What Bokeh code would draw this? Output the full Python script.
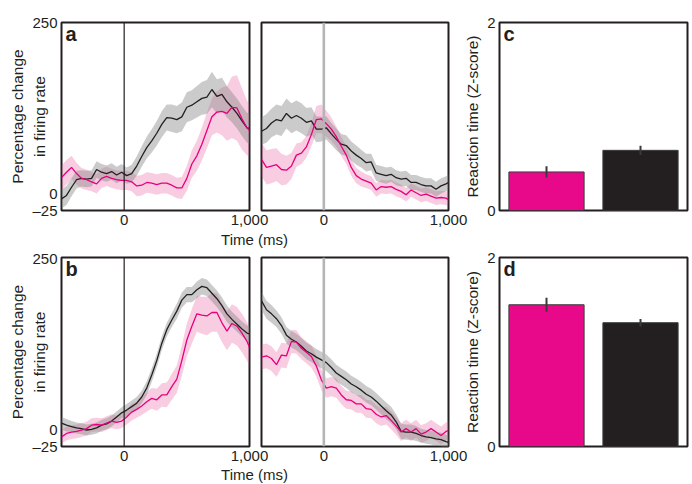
from bokeh.plotting import figure
from bokeh.models import Range1d, FactorRange, FixedTicker, Span, Label, Div, ColumnDataSource
from bokeh.layouts import row, column
from bokeh.embed import file_html
from bokeh.resources import INLINE

# ---------------- data ----------------
T = [-500, -460, -420, -380, -340, -300, -260, -220, -180, -140, -100, -60, -20,
     20, 60, 100, 140, 180, 220, 260, 300, 340, 380, 420, 460, 500, 540, 580,
     620, 660, 700, 740, 780, 820, 860, 900, 940, 980, 1000]

# panel a, left
AL_BLACK = [-8, -3, 9, 20, 22, 21, 22, 35, 31, 29, 32, 27, 31, 26, 29, 40, 54, 67, 77, 88,
            101, 111, 110, 108, 112, 126, 129, 134, 139, 141, 152, 142, 145, 134, 126, 117, 106, 96, 95]
AL_BLACK_SEM = [14, 14, 13, 13, 12, 12, 12, 12, 12, 12, 12, 12, 12, 12, 13, 14, 15, 16, 17, 18,
                19, 19, 20, 20, 21, 22, 22, 23, 24, 25, 26, 25, 24, 23, 22, 22, 22, 22, 22]
AL_PINK = [23, 31, 38, 29, 22, 20, 17, 14, 22, 25, 22, 20, 19, 19, 17, 11, 12, 16, 15, 13,
           15, 15, 12, 8, 8, 22, 43, 55, 72, 92, 112, 119, 120, 117, 126, 125, 109, 96, 92]
AL_PINK_SEM = [18, 18, 17, 16, 15, 15, 14, 14, 14, 14, 14, 14, 14, 14, 14, 15, 15, 15, 15, 15,
               15, 15, 15, 15, 16, 18, 20, 22, 24, 26, 27, 30, 35, 40, 45, 48, 45, 40, 38]

# panel a, right
AR_BLACK = [91, 95, 103, 108, 106, 117, 110, 114, 110, 104, 106, 94, 94, 96, 87, 79, 72, 70, 62, 56,
            51, 45, 46, 30, 28, 26, 28, 23, 21, 22, 16, 16, 13, 11, 11, 6, 11, 14, 16]
AR_BLACK_SEM = [20, 21, 21, 22, 22, 22, 22, 22, 22, 21, 20, 19, 18, 17, 16, 16, 15, 15, 14, 14,
                13, 13, 12, 12, 12, 12, 11, 11, 11, 11, 11, 11, 11, 11, 11, 11, 11, 11, 11]
AR_PINK = [50, 38, 40, 42, 35, 34, 40, 56, 59, 68, 86, 108, 109, 102, 94, 83, 69, 56, 38, 26,
           21, 18, 15, 5, 10, 9, 10, 6, 3, -2, 5, 1, -3, -1, -4, -7, -6, -7, -9]
AR_PINK_SEM = [24, 25, 25, 24, 23, 21, 19, 17, 16, 16, 17, 20, 21, 19, 17, 15, 14, 13, 12, 11,
               11, 10, 10, 10, 10, 10, 10, 10, 10, 10, 10, 10, 10, 10, 10, 10, 10, 10, 10]

# panel b, left
BL_BLACK = [9, 6, 4, 2, 1, -1, 0, 2, 6, 8, 12, 18, 24, 28, 33, 38, 47, 60, 79, 100,
            125, 145, 159, 172, 188, 196, 196, 203, 208, 206, 198, 190, 180, 168, 160, 153, 146, 140, 139]
BL_BLACK_SEM = [9, 9, 8, 8, 8, 8, 8, 8, 8, 8, 8, 8, 8, 9, 9, 9, 9, 10, 10, 10,
                10, 10, 10, 11, 11, 11, 11, 12, 12, 12, 12, 12, 12, 12, 11, 11, 11, 11, 11]
BL_PINK = [-11, -6, -4, -3, -1, 1, 6, 7, 6, 9, 12, 10, 12, 18, 25, 29, 34, 40, 45, 43,
           50, 50, 62, 73, 100, 130, 150, 168, 166, 165, 170, 170, 155, 143, 154, 150, 140, 128, 119]
BL_PINK_SEM = [10, 10, 10, 10, 10, 10, 10, 10, 10, 10, 10, 10, 10, 11, 12, 12, 13, 14, 15, 16,
               17, 18, 19, 20, 22, 24, 25, 26, 27, 28, 28, 28, 28, 28, 28, 28, 28, 28, 28]

# panel b, right
BR_BLACK = [187, 174, 168, 161, 151, 137, 131, 127, 121, 114, 110, 105, 101, 97, 90, 82, 77, 72, 66, 62,
            57, 51, 47, 41, 34, 27, 21, 11, -3, -4, -4, -6, -9, -11, -12, -14, -15, -18, -19]
BR_BLACK_SEM = [13, 13, 13, 12, 12, 12, 12, 12, 12, 12, 12, 12, 12, 12, 12, 12, 12, 12, 12, 12,
                12, 12, 12, 12, 12, 12, 12, 11, 11, 11, 11, 11, 10, 10, 10, 10, 10, 10, 10]
BR_PINK = [105, 107, 103, 94, 108, 107, 128, 127, 118, 112, 106, 92, 72, 60, 62, 60, 50, 43, 42, 37,
           37, 30, 29, 22, 18, 20, 13, 5, -4, 1, -4, 1, -7, -4, 1, -4, -9, -3, -2]
BR_PINK_SEM = [18, 18, 18, 18, 18, 18, 17, 17, 16, 16, 16, 15, 15, 14, 14, 14, 13, 13, 13, 13,
               13, 13, 13, 13, 13, 13, 13, 13, 13, 13, 13, 13, 13, 13, 13, 13, 13, 13, 13]

# bar panels c and d
CONDS = ["Laser", "No laser"]
C_RT = [0.41, 0.64]
C_ERR = [0.06, 0.05]
D_RT = [1.50, 1.31]
D_ERR = [0.075, 0.04]

XLIM = (-500, 1000)
YLIM = (-25, 250)
XTICKS = [0, 1000]
YTICKS = [-25, 0, 250]
RT_LIM = (0, 2)
RT_TICKS = [0, 2]

# ---------------- style ----------------
FONT = "Liberation Sans"
INK = "#231f20"
PINK = "#e6007e"
BAR_COLORS = ["#e8098a", "#231f20"]


def style_axes(p):
    p.outline_line_color = INK
    p.outline_line_width = 2
    p.outline_line_alpha = 1
    p.grid.visible = False
    for ax in list(p.xaxis) + list(p.yaxis):
        ax.axis_line_color = None
        ax.major_tick_line_color = None
        ax.minor_tick_line_color = None
        ax.major_tick_out = 0
        ax.major_tick_in = 0
        ax.minor_tick_out = 0
        ax.minor_tick_in = 0
        ax.major_label_text_font = FONT
        ax.major_label_text_font_size = "15px"
        ax.major_label_text_color = INK
        ax.axis_label_text_font = FONT
        ax.axis_label_text_font_size = "15.5px"
        ax.axis_label_text_font_style = "normal"
        ax.axis_label_text_color = INK


def letter_label(text, x, y):
    return Label(x=x, y=y, x_offset=4, y_offset=-11, text=text, text_font=FONT,
                 text_font_style="bold", text_font_size="20px", text_color=INK,
                 text_baseline="alphabetic")


def time_fig(letter, kb, ks, pb, ps, with_y, top, height, bottom, margin_left, left_border, frame_w):
    p = figure(frame_width=frame_w, frame_height=height,
               x_range=Range1d(*XLIM), y_range=Range1d(*YLIM),
               output_backend="svg", toolbar_location=None,
               min_border_left=left_border, min_border_right=22,
               min_border_top=top, min_border_bottom=bottom,
               margin=(0, 0, 0, margin_left))
    p.border_fill_alpha = 0
    style_axes(p)
    p.varea(x=T, y1=[m - s for m, s in zip(pb, ps)], y2=[m + s for m, s in zip(pb, ps)],
            fill_color="#e8559a", fill_alpha=0.3)
    p.varea(x=T, y1=[m - s for m, s in zip(kb, ks)], y2=[m + s for m, s in zip(kb, ks)],
            fill_color="#8c8c8c", fill_alpha=0.45)
    if with_y:
        p.add_layout(Span(location=0, dimension="height", line_color=INK, line_width=1.2))
    else:
        p.add_layout(Span(location=0, dimension="height", line_color="#b5b5b5", line_width=2.6))
    p.line(T, kb, line_color=INK, line_width=1.3)
    p.line(T, pb, line_color=PINK, line_width=1.3)

    p.xaxis.ticker = FixedTicker(ticks=XTICKS)
    p.xaxis.major_label_overrides = {1000: "1,000"}
    p.xaxis.major_label_standoff = 4
    if with_y:
        p.yaxis.ticker = FixedTicker(ticks=YTICKS)
        p.yaxis.major_label_overrides = {-25: "\u201325"}
        p.yaxis.major_label_standoff = 4
        p.yaxis.axis_label = "Percentage change\nin firing rate"
        p.yaxis.axis_label_standoff = -19
        p.yaxis.axis_label_text_line_height = 1.3
    else:
        p.yaxis.visible = False
    if letter:
        p.add_layout(letter_label(letter, XLIM[0], YLIM[1]))
    return p


def bar_fig(letter, vals, errs, top, height, bottom, margin_left):
    p = figure(frame_width=188, frame_height=height,
               x_range=FactorRange(*CONDS), y_range=Range1d(*RT_LIM),
               output_backend="svg", toolbar_location=None,
               min_border_left=36, min_border_right=3,
               min_border_top=top, min_border_bottom=bottom,
               margin=(0, 0, 0, margin_left))
    p.border_fill_alpha = 0
    style_axes(p)
    src = ColumnDataSource(dict(cond=CONDS, rt=vals,
                                lo=[v - e for v, e in zip(vals, errs)],
                                hi=[v + e for v, e in zip(vals, errs)],
                                color=BAR_COLORS))
    p.vbar(x="cond", top="rt", width=0.8, fill_color="color", line_color="#3c3c3c",
           line_width=1, source=src)
    p.segment(x0="cond", y0="lo", x1="cond", y1="hi", line_color="#3a3a3a",
              line_width=2, source=src)
    p.xaxis.visible = False
    p.yaxis.ticker = FixedTicker(ticks=RT_TICKS)
    p.yaxis.major_label_standoff = 4
    p.yaxis.axis_label = "Reaction time (Z-score)"
    p.yaxis.axis_label_standoff = 3
    p.add_layout(letter_label(letter, 0, RT_LIM[1]))
    return p


TOP_H, BOT_H = 188, 189

a_left = time_fig("a", AL_BLACK, AL_BLACK_SEM, AL_PINK, AL_PINK_SEM, True, 22, TOP_H, 21, 0, 61, 188)
a_right = time_fig(None, AR_BLACK, AR_BLACK_SEM, AR_PINK, AR_PINK_SEM, False, 22, TOP_H, 21, -14, 4, 187)
c_bar = bar_fig("c", C_RT, C_ERR, 22, TOP_H, 21, -9)

b_left = time_fig("b", BL_BLACK, BL_BLACK_SEM, BL_PINK, BL_PINK_SEM, True, 8, BOT_H, 21, 0, 61, 188)
b_right = time_fig(None, BR_BLACK, BR_BLACK_SEM, BR_PINK, BR_PINK_SEM, False, 8, BOT_H, 21, -14, 4, 187)
d_bar = bar_fig("d", D_RT, D_ERR, 8, BOT_H, 21, -9)

LBL_STYLE = {"text-align": "center", "font-family": FONT, "font-size": "15px", "color": INK}
time_lbl_1 = Div(text="Time (ms)", width=509, height=18, margin=(0, 0, 0, 0),
                 styles=dict(LBL_STYLE, **{"line-height": "18px"}))
time_lbl_2 = Div(text="Time (ms)", width=509, height=16, margin=(0, 0, 0, 0),
                 styles=dict(LBL_STYLE, **{"line-height": "16px"}))

page = column(row(a_left, a_right, c_bar), time_lbl_1,
              row(b_left, b_right, d_bar), time_lbl_2)

open("out.html", "w").write(file_html(page, INLINE))
